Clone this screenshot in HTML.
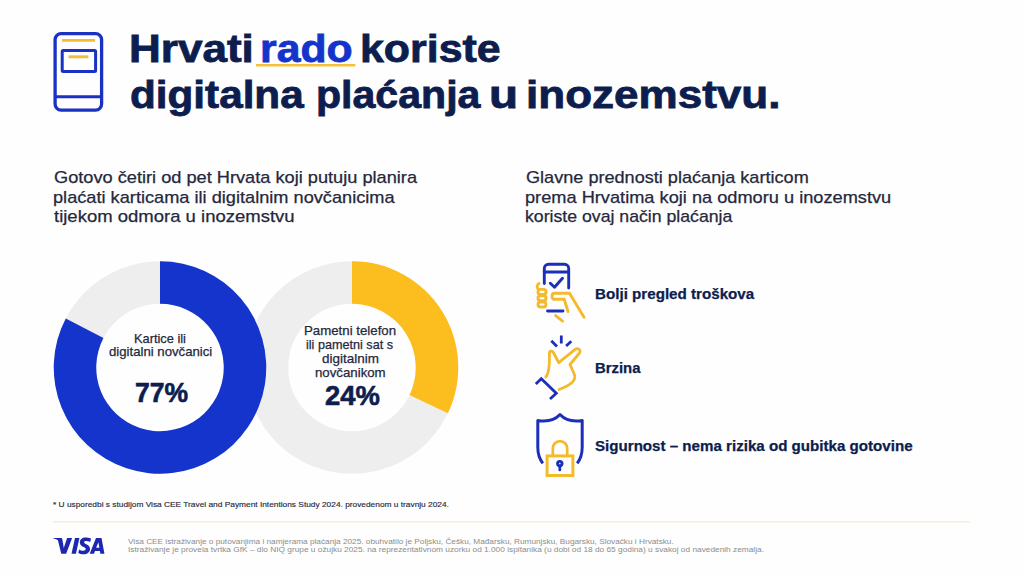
<!DOCTYPE html>
<html><head><meta charset="utf-8">
<style>
html,body{margin:0;padding:0;}
body{width:1024px;height:576px;background:#fefefe;position:relative;overflow:hidden;font-family:"Liberation Sans",sans-serif;}
.t{position:absolute;white-space:nowrap;transform-origin:0 0;}
svg{position:absolute;left:0;top:0;}
</style></head><body>
<svg width="1024" height="576" viewBox="0 0 1024 576">
<!-- title phone icon -->
<g fill="none" stroke="#1a32c4" stroke-width="3.300">
<rect x="55.1" y="33.6" width="46.5" height="76.5" rx="6" ry="6"/>
<line x1="55" y1="96.700" x2="101.5" y2="96.700" stroke-width="2.900"/>
<rect x="62.200" y="50.600" width="33.400" height="21" rx="1" stroke-width="3"/>
</g>
<g stroke="#f3bd35" stroke-width="2.900" stroke-linecap="butt">
<line x1="62" y1="40.400" x2="95" y2="40.400"/>
<line x1="68.600" y1="56.800" x2="88.400" y2="56.800"/>
</g>
<line x1="256" y1="65.300" x2="355.3" y2="65.300" stroke="#f6c13a" stroke-width="2.400"/>
<!-- donuts -->
<circle cx="352" cy="367.5" r="85" fill="none" stroke="#eeeeee" stroke-width="42.5"/>
<path fill="#fcbd1f" d="M352.00 261.25A106.25 106.25 0 0 1 447.90 413.24L409.54 394.95A63.75 63.75 0 0 0 352.00 303.75Z"/>
<circle cx="160" cy="367.5" r="85" fill="none" stroke="#eeeeee" stroke-width="42.5"/>
<path fill="#1434cb" d="M160.00 261.25A106.25 106.25 0 1 1 65.76 318.44L103.45 338.06A63.75 63.75 0 1 0 160.00 303.75Z"/>
<line x1="53" y1="521.8" x2="970" y2="521.8" stroke="#fbeed2" stroke-width="1.6"/>
<!-- icon 1: phone in hand -->
<g fill="none" stroke="#1c2fb8" stroke-width="2.9" stroke-linecap="round" stroke-linejoin="round">
<path d="M544.3 283.5V268.5a4.2 4.2 0 0 1 4.2-4.2h16a4.2 4.2 0 0 1 4.2 4.2V288"/>
<path d="M544.3 272H568.7"/>
<path d="M550.3 283.3l4.2 4 8-9"/>
<path d="M547.5 311H563"/>
</g>
<g fill="none" stroke="#f3bb2c" stroke-width="2.9" stroke-linecap="round" stroke-linejoin="round">
<path d="M539 283.5c-2 1-2.5 3.5-1 5.5"/>
<rect x="538" y="289.4" width="8" height="5" rx="2.5"/>
<rect x="538" y="295.7" width="8" height="5" rx="2.5"/>
<rect x="538" y="302" width="8" height="5" rx="2.5"/>
<path d="M568 311.5l-3.8-12.3h-9.7c-2 0-2.5-1.500-2.500-3s.5-3 2.500-3h15l14.500 24"/>
<path d="M555.6 315.600l7 5.500"/>
</g>
<!-- icon 2: snap -->
<g fill="none" stroke="#1c2fb8" stroke-width="2.8" stroke-linecap="butt" stroke-linejoin="miter">
<path d="M561.3 335.500v8"/>
<path d="M551.3 340.800l5.700 5.700"/>
<path d="M571.3 341.300l-5.200 4.700"/>
<path d="M535.800 384l5.500-5.300 15 14.500-6.300 5.800"/>
</g>
<path fill="none" stroke="#f3bb2c" stroke-width="2.8" stroke-linecap="round" stroke-linejoin="round" d="M545.800 377c2.500-3 3.600-9 3.600-17.500v-6.500c0-2 2.800-2.500 4-.500l5.300 10.200 16.500-13.300c3-2 6 .5 4.300 3.600l-9.500 11.500 4.400 10c.8 2.500 0 5.500-1.900 7.500-2.500 2.500-8 5.500-13.500 7.500"/>
<!-- icon 3: shield lock -->
<path fill="none" stroke="#1c2fb8" stroke-width="3" stroke-linejoin="round" d="M542.800 463.300c-3.500-4.500-5-10-5-16v-26.800c9 1.500 17-.3 22.200-5.900 5.200 5.600 13.200 7.400 22.200 5.900v26.800c0 6-1.500 11.500-5 16"/>
<g fill="none" stroke="#f3bb2c" stroke-width="3">
<rect x="547.100" y="455.900" width="25.800" height="19.600"/>
<path d="M552.800 455.500v-7.200a7.200 7.200 0 0 1 14.400 0v7.200" stroke-width="2.700"/>
</g>
<circle cx="559.800" cy="463.600" r="2.250" fill="none" stroke="#1c2fb8" stroke-width="2.900"/>
<path d="M559.800 466v4" stroke="#1c2fb8" stroke-width="2.700" stroke-linecap="round"/>
<!-- visa logo -->
<g transform="translate(48,530) scale(0.0625)" fill="#1d27b0" fill-rule="evenodd">
<path d="M88,127 L212,127 Q226,128 229,146 L252,288 L306,127 L386,127 L290,381 L212,381 L160,168 Q154,150 88,134 Z"/>
<path d="M432,127 L503,127 L447,381 L376,381 Z"/>
<path d="M688,136 C660,126 630,121 605,121 C545,121 510,155 510,198 C510,240 545,258 572,272 C595,284 603,292 603,304 C603,320 588,330 565,330 C540,330 515,322 497,310 L484,366 C505,377 535,387 568,387 C630,387 672,352 672,302 C672,265 645,245 612,228 C590,217 578,208 578,196 C578,184 590,176 610,176 C632,176 655,182 676,192 Z"/>
<path d="M768,127 L856,127 L903,381 L838,381 L830,336 L752,336 L735,381 L667,381 Z M770,284 L822,284 L806,196 Z"/>
</g>
</svg>

<div class="t" style="left:129.11px;top:26.16px;font:normal bold 38.5px/46.2px 'Liberation Sans',sans-serif;color:#0c1d4e;-webkit-text-stroke:0.8px #0c1d4e;transform:scaleX(1.1438)">Hrvati</div>
<div class="t" style="left:260.08px;top:26.16px;font:normal bold 38.5px/46.2px 'Liberation Sans',sans-serif;color:#1434cb;-webkit-text-stroke:0.8px #1434cb;transform:scaleX(1.1098)">rado</div>
<div class="t" style="left:359.67px;top:26.16px;font:normal bold 38.5px/46.2px 'Liberation Sans',sans-serif;color:#0c1d4e;-webkit-text-stroke:0.8px #0c1d4e;transform:scaleX(1.1143)">koriste</div>
<div class="t" style="left:130.30px;top:71.76px;font:normal bold 38.5px/46.2px 'Liberation Sans',sans-serif;color:#0c1d4e;-webkit-text-stroke:0.8px #0c1d4e;transform:scaleX(1.0971)">digitalna</div>
<div class="t" style="left:316.47px;top:71.76px;font:normal bold 38.5px/46.2px 'Liberation Sans',sans-serif;color:#0c1d4e;-webkit-text-stroke:0.8px #0c1d4e;transform:scaleX(1.0671)">plaćanja</div>
<div class="t" style="left:489.23px;top:71.76px;font:normal bold 38.5px/46.2px 'Liberation Sans',sans-serif;color:#0c1d4e;-webkit-text-stroke:0.8px #0c1d4e;transform:scaleX(1.2368)">u</div>
<div class="t" style="left:526.11px;top:71.76px;font:normal bold 38.5px/46.2px 'Liberation Sans',sans-serif;color:#0c1d4e;-webkit-text-stroke:0.8px #0c1d4e;transform:scaleX(1.1436)">inozemstvu.</div>
<div class="t" style="left:53.88px;top:168.28px;font:normal normal 16.4px/19.68px 'Liberation Sans',sans-serif;color:#25283c;-webkit-text-stroke:0.25px #25283c;transform:scaleX(1.1099)">Gotovo četiri od pet Hrvata koji putuju planira</div>
<div class="t" style="left:52.77px;top:187.78px;font:normal normal 16.4px/19.68px 'Liberation Sans',sans-serif;color:#25283c;-webkit-text-stroke:0.25px #25283c;transform:scaleX(1.1095)">plaćati karticama ili digitalnim novčanicima</div>
<div class="t" style="left:53.88px;top:207.28px;font:normal normal 16.4px/19.68px 'Liberation Sans',sans-serif;color:#25283c;-webkit-text-stroke:0.25px #25283c;transform:scaleX(1.1288)">tijekom odmora u inozemstvu</div>
<div class="t" style="left:526.38px;top:168.28px;font:normal normal 16.4px/19.68px 'Liberation Sans',sans-serif;color:#25283c;-webkit-text-stroke:0.25px #25283c;transform:scaleX(1.1043)">Glavne prednosti plaćanja karticom</div>
<div class="t" style="left:525.26px;top:187.78px;font:normal normal 16.4px/19.68px 'Liberation Sans',sans-serif;color:#25283c;-webkit-text-stroke:0.25px #25283c;transform:scaleX(1.1106)">prema Hrvatima koji na odmoru u inozemstvu</div>
<div class="t" style="left:525.30px;top:207.28px;font:normal normal 16.4px/19.68px 'Liberation Sans',sans-serif;color:#25283c;-webkit-text-stroke:0.25px #25283c;transform:scaleX(1.0787)">koriste ovaj način plaćanja</div>
<div class="t" style="left:595.12px;top:285.92px;font:normal bold 14.4px/17.28px 'Liberation Sans',sans-serif;color:#0c1d4e;-webkit-text-stroke:0.25px #0c1d4e;transform:scaleX(1.0534)">Bolji pregled troškova</div>
<div class="t" style="left:595.12px;top:360.17px;font:normal bold 14.4px/17.28px 'Liberation Sans',sans-serif;color:#0c1d4e;-webkit-text-stroke:0.25px #0c1d4e;transform:scaleX(1.0339)">Brzina</div>
<div class="t" style="left:595.33px;top:437.77px;font:normal bold 14.4px/17.28px 'Liberation Sans',sans-serif;color:#0c1d4e;-webkit-text-stroke:0.25px #0c1d4e;transform:scaleX(1.0506)">Sigurnost – nema rizika od gubitka gotovine</div>
<div class="t" style="left:133.87px;top:331.58px;font:normal normal 12.7px/15.24px 'Liberation Sans',sans-serif;color:#25283c;-webkit-text-stroke:0.25px #25283c;transform:scaleX(1.0091)">Kartice ili</div>
<div class="t" style="left:108.62px;top:345.18px;font:normal normal 12.7px/15.24px 'Liberation Sans',sans-serif;color:#25283c;-webkit-text-stroke:0.25px #25283c;transform:scaleX(1.0388)">digitalni novčanici</div>
<div class="t" style="left:135.12px;top:377.24px;font:normal bold 27px/32.4px 'Liberation Sans',sans-serif;color:#0c1d4e;-webkit-text-stroke:0.6px #0c1d4e;transform:scaleX(0.9824)">77%</div>
<div class="t" style="left:303.98px;top:324.08px;font:normal normal 12.7px/15.24px 'Liberation Sans',sans-serif;color:#25283c;-webkit-text-stroke:0.25px #25283c;transform:scaleX(1.0441)">Pametni telefon</div>
<div class="t" style="left:305.62px;top:338.08px;font:normal normal 12.7px/15.24px 'Liberation Sans',sans-serif;color:#25283c;-webkit-text-stroke:0.25px #25283c;transform:scaleX(0.9949)">ili pametni sat s</div>
<div class="t" style="left:322.23px;top:352.18px;font:normal normal 12.7px/15.24px 'Liberation Sans',sans-serif;color:#25283c;-webkit-text-stroke:0.25px #25283c;transform:scaleX(1.0608)">digitalnim</div>
<div class="t" style="left:315.02px;top:366.28px;font:normal normal 12.7px/15.24px 'Liberation Sans',sans-serif;color:#25283c;-webkit-text-stroke:0.25px #25283c;transform:scaleX(1.0435)">novčanikom</div>
<div class="t" style="left:325.00px;top:380.04px;font:normal bold 27px/32.4px 'Liberation Sans',sans-serif;color:#0c1d4e;-webkit-text-stroke:0.6px #0c1d4e;transform:scaleX(1.0161)">24%</div>
<div class="t" style="left:53.08px;top:500.23px;font:normal normal 8px/9.6px 'Liberation Sans',sans-serif;color:#262a40;-webkit-text-stroke:0.15px #262a40;transform:scaleX(1.0417)">* U usporedbi s studijom Visa CEE Travel and Payment Intentions Study 2024. provedenom u travnju 2024.</div>
<div class="t" style="left:127.50px;top:537.55px;font:normal normal 7.4px/8.88px 'Liberation Sans',sans-serif;color:#8c8c8c;-webkit-text-stroke:0px #8c8c8c;transform:scaleX(1.1139)">Visa CEE istraživanje o putovanjima i namjerama plaćanja 2025. obuhvatilo je Poljsku, Češku, Mađarsku, Rumunjsku, Bugarsku, Slovačku i Hrvatsku.</div>
<div class="t" style="left:127.50px;top:546.20px;font:normal normal 7.4px/8.88px 'Liberation Sans',sans-serif;color:#8c8c8c;-webkit-text-stroke:0px #8c8c8c;transform:scaleX(1.1242)">Istraživanje je provela tvrtka GfK – dio NIQ grupe u ožujku 2025. na reprezentativnom uzorku od 1.000 ispitanika (u dobi od 18 do 65 godina) u svakoj od navedenih zemalja.</div>
</body></html>
